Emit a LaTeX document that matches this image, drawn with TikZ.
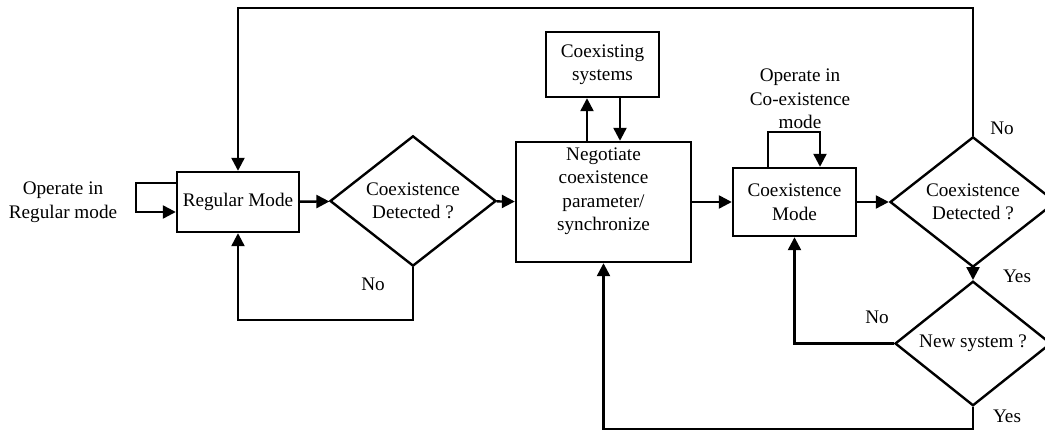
\documentclass[tikz,border=0pt]{standalone}
\usepackage{fontspec}
\setmainfont{Liberation Serif}
\usetikzlibrary{shapes.geometric, arrows.meta, positioning, calc}

\begin{document}
\begin{tikzpicture}[
            x=0.5pt, y=-0.5pt,
            every node/.style={font=\fontsize{9.6}{11.75}\selectfont},
            box/.style={draw, line width=1.2pt, align=center, inner sep=0pt},
            decision/.style={draw, diamond, line width=1.2pt, align=center, inner sep=0pt},
            txt/.style={align=center, inner sep=0pt},
            arr/.style={line width=1.2pt, -{Triangle[length=6.5pt, width=6.5pt]}}
        ]
            \useasboundingbox (0,0) rectangle (1045,432);
            % Regular mode side
            \node[txt] (opreg) at (63,202) {Operate in\\Regular mode};
            \node[box, minimum width=61pt, minimum height=30pt] (reg) at (238,202) {Regular Mode};
            \node[decision, minimum width=83pt, minimum height=61pt] (det1) at (413,201) {Coexistence\\Detected ?};
            % Negotiation
            \node[box, minimum width=87.5pt, minimum height=60pt] (neg) at (603.5,202) {};
            \node[txt] (negtxt) at (603.5,191) {Negotiate\\coexistence\\parameter/\\synchronize};
            \node[box, minimum width=56.5pt, minimum height=32.5pt] (coex) at (602.5,64.5) {Coexisting\\systems};
            % Co-existence mode side
            \node[box, minimum width=61.5pt, minimum height=34pt] (cmode) at (794.5,202) {Coexistence\\Mode};
            \node[txt] (opco) at (800,99) {Operate in\\Co-existence\\mode};
            \node[decision, minimum width=83pt, minimum height=59.5pt] (det2) at (973,202) {Coexistence\\Detected ?};
            \node[decision, minimum width=78pt, minimum height=53.5pt] (newsys) at (973,343.5) {New system ?};
            % Corners
            \coordinate (loopa) at (136,183);
            \coordinate (loopb) at (136,212);
            \coordinate (nobot) at (413,320);
            \coordinate (toprt) at (973,8);
            \coordinate (botrt) at (973,429);
            % Connectors
            \draw[arr] (reg.west |- loopa) -- (loopa) -- (loopb) -- (reg.west |- loopb);
            \draw[arr] (reg) -- (det1);
            \draw[arr] (det1) -- (neg);
            \draw[arr] (det1.south) -- (nobot) -| (reg.south);
            \draw[arr] ([xshift=-8.25pt]neg.north) -- ([xshift=-8.25pt]neg.north |- coex.south);
            \draw[arr] ([xshift=8.75pt]coex.south) -- ([xshift=8.75pt]coex.south |- neg.north);
            \draw[arr] (neg) -- (cmode);
            \draw[arr] ([xshift=-13.25pt]cmode.north) -- ++(0,-35) -- ++(52,0) -- ([xshift=12.75pt]cmode.north);
            \draw[arr] (cmode) -- (det2);
            \draw[arr] (det2.north) -- (toprt) -| (reg.north);
            \draw[arr] (det2.south) -- (newsys.north);
            \draw[arr] (newsys.west) -| (cmode.south);
            \draw[arr] (newsys.south) -- (botrt) -| (neg.south);
            % Branch labels
            \node (no1) at (373,284) {No};
            \node (no2) at (1002,128) {No};
            \node (yes1) at (1017,276) {Yes};
            \node (no3) at (877,317) {No};
            \node (yes2) at (1007,416) {Yes};
        \end{tikzpicture}
\end{document}
